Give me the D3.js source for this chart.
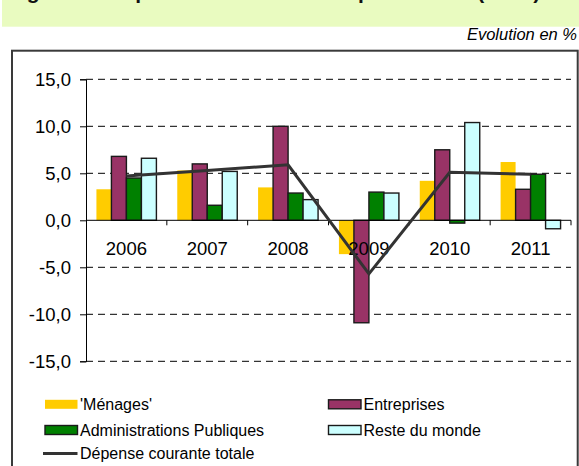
<!DOCTYPE html>
<html>
<head>
<meta charset="utf-8">
<script src="https://cdn.jsdelivr.net/npm/d3@7"></script>
<style>
	body { margin: 0; background: #fff; }
	svg { display: block; font-family: "Liberation Sans", Arial, sans-serif; }
</style>
</head>
<body>
<div id="chart"></div>
<script>

// (data) Chart values
var years = ["2006", "2007", "2008", "2009", "2010", "2011"];
var menages = [3.3, 5.3, 3.5, -3.6, 4.2, 6.2];
var entreprises = [6.8, 6.0, 10.0, -10.9, 7.5, 3.3];
var administrations = [4.5, 1.6, 2.9, 3.0, -0.3, 4.9];
var resteMonde = [6.6, 5.2, 2.2, 2.9, 10.4, -0.9];
var depenseTotale = [4.7, 5.3, 5.9, -5.7, 5.1, 4.9];
var yTicks = [-15, -10, -5, 0, 5, 10, 15];

var seriesNames = ["'Ménages'", "Entreprises", "Administrations Publiques", "Reste du monde"];
var seriesValues = [menages, entreprises, administrations, resteMonde];
var seriesColors = ["#ffcc00", "#993366", "#008000", "#ccffff"];
var lineName = "Dépense courante totale";

var width = 579, height = 466;
var plot = {left: 86, right: 571, top: 79.3, bottom: 361.3};

var svg = d3.select("#chart")
	.append("svg")
	.attr("width", width)
	.attr("height", height);

// (band) Green title band, title cut at the top
svg.append("rect")
	.attr("x", 2)
	.attr("y", 0)
	.attr("width", width - 2)
	.attr("height", 26.7)
	.attr("fill", "#e9fbc0");
svg.append("text")
	.attr("x", 8)
	.attr("y", -1.5)
	.attr("font-size", 21)
	.attr("font-weight", "bold")
	.attr("fill", "#111")
	.text("Figure 3 : Dépense courante totale par secteur (en %)");

// (subtitle) Unit
svg.append("text")
	.attr("x", 577)
	.attr("y", 40)
	.attr("text-anchor", "end")
	.attr("font-size", 16.5)
	.attr("font-style", "italic")
	.attr("fill", "#000")
	.text("Evolution en %");

// (frame) Chart border
svg.append("rect")
	.attr("x", 12)
	.attr("y", 50.7)
	.attr("width", 565.7)
	.attr("height", 440)
	.attr("fill", "none")
	.attr("stroke", "#3a3a3a")
	.attr("stroke-width", 2);

// (scales)
var x0 = d3.scaleBand()
	.domain(years)
	.range([plot.left, plot.right]);
var groupPad = x0.bandwidth() * 0.129;
var x1 = d3.scaleBand()
	.domain(d3.range(seriesValues.length))
	.range([groupPad, x0.bandwidth() - groupPad]);
var y = d3.scaleLinear()
	.domain([-15, 15])
	.range([plot.bottom, plot.top]);

var locale = d3.formatLocale({decimal: ",", thousands: " ", grouping: [3], currency: ["", " €"], minus: "-"});
var fmt = locale.format(".1f");

// (grid) Dashed gridlines
svg.append("g")
	.selectAll("line")
	.data(yTicks.filter(function(d) { return d !== 0; }))
	.enter()
	.append("line")
	.attr("x1", plot.left)
	.attr("x2", plot.right)
	.attr("y1", function(d) { return y(d); })
	.attr("y2", function(d) { return y(d); })
	.attr("stroke", "#000")
	.attr("stroke-width", 1)
	.attr("stroke-dasharray", "7,5");

// (bars) One group per year
var groups = svg.append("g")
	.selectAll("g")
	.data(years)
	.enter()
	.append("g")
	.attr("transform", function(d) { return "translate(" + x0(d) + ",0)"; });
groups.selectAll("rect")
	.data(function(d, i) {
		return seriesValues.map(function(s, k) { return {k: k, v: s[i]}; });
	})
	.enter()
	.append("rect")
	.attr("x", function(d) { return x1(d.k); })
	.attr("width", x1.bandwidth())
	.attr("y", function(d) { return y(Math.max(0, d.v)); })
	.attr("height", function(d) { return Math.abs(y(d.v) - y(0)); })
	.attr("fill", function(d) { return seriesColors[d.k]; })
	.attr("stroke", function(d) { return d.k === 0 ? "none" : "#1a1a1a"; })
	.attr("stroke-width", 1.4);

// (axis_y) Value axis
var yAxis = svg.append("g")
	.attr("transform", "translate(" + plot.left + ",0)")
	.call(d3.axisLeft(y).tickValues(yTicks).tickFormat(fmt).tickSize(6).tickPadding(9));
yAxis.select(".domain").attr("stroke", "#000");
yAxis.selectAll("text")
	.attr("font-size", 18.5)
	.attr("font-family", "Liberation Sans, Arial, sans-serif")
	.attr("fill", "#000");

// (axis_x) Category axis at zero
var xAxis = svg.append("g")
	.attr("transform", "translate(0," + y(0) + ")");
xAxis.append("line")
	.attr("x1", plot.left)
	.attr("x2", plot.right)
	.attr("stroke", "#000");
xAxis.selectAll("line.tick")
	.data(years)
	.enter()
	.append("line")
	.attr("class", "tick")
	.attr("x1", function(d) { return x0(d) + x0.bandwidth(); })
	.attr("x2", function(d) { return x0(d) + x0.bandwidth(); })
	.attr("y1", 0)
	.attr("y2", 5)
	.attr("stroke", "#000");
xAxis.selectAll("text")
	.data(years)
	.enter()
	.append("text")
	.attr("x", function(d) { return x0(d) + x0.bandwidth() / 2; })
	.attr("y", 34.5)
	.attr("text-anchor", "middle")
	.attr("font-size", 18.5)
	.attr("fill", "#000")
	.text(function(d) { return d; });

// (line) Total current expenditure
var line = d3.line()
	.x(function(d, i) { return x0(years[i]) + x0.bandwidth() / 2; })
	.y(function(d) { return y(d); });
svg.append("path")
	.datum(depenseTotale)
	.attr("d", line)
	.attr("fill", "none")
	.attr("stroke", "#333")
	.attr("stroke-width", 3);

// (legend)
var legendData = [
	{name: seriesNames[0], color: seriesColors[0], x: 45, y: 404.3, type: "bar"},
	{name: seriesNames[1], color: seriesColors[1], x: 328.5, y: 404.3, type: "bar"},
	{name: seriesNames[2], color: seriesColors[2], x: 45, y: 430, type: "bar"},
	{name: seriesNames[3], color: seriesColors[3], x: 328.5, y: 430, type: "bar"},
	{name: lineName, color: "#333", x: 45, y: 453.5, type: "line"}
];
var legend = svg.append("g")
	.selectAll("g")
	.data(legendData)
	.enter()
	.append("g")
	.attr("transform", function(d) { return "translate(" + d.x + "," + d.y + ")"; });
legend.filter(function(d) { return d.type === "bar"; })
	.append("rect")
	.attr("x", 0)
	.attr("y", -4.5)
	.attr("width", 32.5)
	.attr("height", 9)
	.attr("fill", function(d) { return d.color; })
	.attr("stroke", function(d) { return d.color === seriesColors[0] ? "none" : "#1a1a1a"; })
	.attr("stroke-width", 1.4);
legend.filter(function(d) { return d.type === "line"; })
	.append("line")
	.attr("x1", -2)
	.attr("x2", 32.5)
	.attr("stroke", function(d) { return d.color; })
	.attr("stroke-width", 3);
legend.append("text")
	.attr("x", 35)
	.attr("y", 5.8)
	.attr("font-size", 16)
	.attr("fill", "#000")
	.text(function(d) { return d.name; });

</script>
</body>
</html>
